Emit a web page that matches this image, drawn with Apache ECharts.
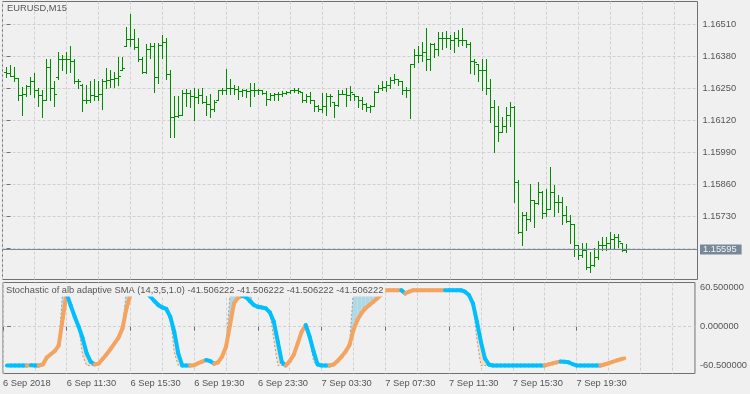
<!DOCTYPE html>
<html><head><meta charset="utf-8">
<script src="https://cdn.jsdelivr.net/npm/echarts@6/dist/echarts.min.js"></script>
<style>html,body{margin:0;padding:0;background:#f0f0f0;}#c{width:750px;height:394px;}</style>
</head><body><div id="c"></div><script>
const symbolName = 'EURUSD,M15';
const indicatorName = 'Stochastic of alb adaptive SMA (14,3,5,1.0) -41.506222 -41.506222 -41.506222 -41.506222';

const opens = [1.16316,1.16312,1.16296,1.16288,1.16219,1.16223,1.16259,1.16276,1.16243,1.16219,
1.16202,1.16336,1.16251,1.16292,1.16365,1.16369,1.16365,1.16357,1.16276,1.16263,
1.16202,1.16202,1.16219,1.16215,1.16223,1.16276,1.16280,1.16284,1.16288,1.16324,
1.16418,1.16450,1.16450,1.16414,1.16365,1.16316,1.16406,1.16418,1.16292,1.16422,
1.16438,1.16304,1.16133,1.16137,1.16141,1.16227,1.16227,1.16215,1.16211,1.16219,
1.16194,1.16186,1.16162,1.16202,1.16243,1.16243,1.16251,1.16251,1.16247,1.16235,
1.16243,1.16235,1.16243,1.16243,1.16239,1.16227,1.16206,1.16219,1.16223,1.16223,
1.16227,1.16231,1.16239,1.16243,1.16231,1.16202,1.16215,1.16202,1.16178,1.16162,
1.16178,1.16215,1.16194,1.16182,1.16223,1.16223,1.16219,1.16223,1.16215,1.16202,
1.16186,1.16170,1.16178,1.16231,1.16251,1.16255,1.16263,1.16280,1.16284,1.16276,
1.16243,1.16239,1.16345,1.16385,1.16385,1.16397,1.16365,1.16426,1.16406,1.16454,
1.16454,1.16454,1.16446,1.16454,1.16446,1.16446,1.16426,1.16357,1.16345,1.16324,
1.16324,1.16251,1.16170,1.16093,1.16072,1.16093,1.16141,1.16170,1.15869,1.15666,
1.15735,1.15715,1.15796,1.15780,1.15825,1.15743,1.15756,1.15825,1.15784,1.15788,
1.15735,1.15707,1.15695,1.15613,1.15569,1.15593,1.15520,1.15532,1.15561,1.15613,
1.15613,1.15621,1.15634,1.15642,1.15621,1.15593];
const highs = [1.16336,1.16341,1.16336,1.16288,1.16255,1.16263,1.16292,1.16312,1.16251,1.16243,
1.16365,1.16365,1.16276,1.16397,1.16385,1.16397,1.16418,1.16365,1.16284,1.16267,
1.16263,1.16276,1.16284,1.16276,1.16284,1.16332,1.16324,1.16316,1.16377,1.16377,
1.16495,1.16548,1.16487,1.16454,1.16377,1.16426,1.16434,1.16434,1.16434,1.16466,
1.16454,1.16324,1.16215,1.16215,1.16243,1.16247,1.16243,1.16251,1.16247,1.16251,
1.16215,1.16223,1.16202,1.16243,1.16251,1.16328,1.16284,1.16263,1.16259,1.16247,
1.16247,1.16271,1.16271,1.16247,1.16243,1.16235,1.16227,1.16227,1.16231,1.16235,
1.16235,1.16243,1.16251,1.16251,1.16231,1.16223,1.16231,1.16202,1.16182,1.16227,
1.16227,1.16223,1.16194,1.16243,1.16243,1.16251,1.16259,1.16223,1.16215,1.16211,
1.16190,1.16182,1.16235,1.16263,1.16276,1.16276,1.16292,1.16308,1.16284,1.16276,
1.16255,1.16345,1.16406,1.16418,1.16438,1.16491,1.16434,1.16434,1.16475,1.16475,
1.16479,1.16466,1.16475,1.16483,1.16491,1.16446,1.16438,1.16365,1.16345,1.16365,
1.16365,1.16284,1.16202,1.16174,1.16133,1.16170,1.16194,1.16178,1.15877,1.15747,
1.15747,1.15861,1.15796,1.15869,1.15829,1.15837,1.15930,1.15857,1.15816,1.15808,
1.15768,1.15735,1.15695,1.15613,1.15621,1.15621,1.15581,1.15601,1.15626,1.15642,
1.15642,1.15666,1.15658,1.15654,1.15621,1.15617];
const lows = [1.16292,1.16296,1.16276,1.16202,1.16141,1.16215,1.16223,1.16211,1.16174,1.16133,
1.16202,1.16202,1.16174,1.16284,1.16324,1.16312,1.16316,1.16271,1.16251,1.16154,
1.16190,1.16194,1.16202,1.16202,1.16162,1.16251,1.16255,1.16255,1.16263,1.16324,
1.16418,1.16418,1.16406,1.16357,1.16312,1.16312,1.16373,1.16231,1.16271,1.16373,
1.16284,1.16052,1.16052,1.16133,1.16141,1.16174,1.16170,1.16121,1.16190,1.16190,
1.16141,1.16133,1.16154,1.16202,1.16223,1.16223,1.16223,1.16223,1.16206,1.16215,
1.16211,1.16174,1.16215,1.16223,1.16223,1.16182,1.16202,1.16202,1.16202,1.16215,
1.16223,1.16227,1.16231,1.16227,1.16194,1.16194,1.16190,1.16154,1.16154,1.16150,
1.16141,1.16174,1.16133,1.16174,1.16223,1.16174,1.16202,1.16202,1.16170,1.16162,
1.16154,1.16150,1.16174,1.16231,1.16243,1.16235,1.16251,1.16271,1.16263,1.16223,
1.16211,1.16129,1.16336,1.16353,1.16357,1.16324,1.16324,1.16377,1.16385,1.16406,
1.16414,1.16406,1.16397,1.16418,1.16422,1.16414,1.16312,1.16304,1.16276,1.16243,
1.16223,1.16113,1.15991,1.16032,1.16072,1.16072,1.16093,1.15788,1.15662,1.15613,
1.15674,1.15707,1.15686,1.15776,1.15723,1.15731,1.15756,1.15731,1.15747,1.15695,
1.15703,1.15621,1.15565,1.15553,1.15561,1.15512,1.15500,1.15524,1.15553,1.15593,
1.15593,1.15601,1.15601,1.15605,1.15585,1.15581];
const closes = [1.16312,1.16296,1.16288,1.16219,1.16223,1.16259,1.16276,1.16243,1.16219,1.16202,
1.16336,1.16251,1.16223,1.16365,1.16369,1.16365,1.16357,1.16276,1.16276,1.16202,
1.16202,1.16219,1.16215,1.16223,1.16276,1.16280,1.16284,1.16288,1.16296,1.16332,
1.16450,1.16450,1.16414,1.16365,1.16316,1.16406,1.16418,1.16292,1.16422,1.16438,
1.16304,1.16133,1.16137,1.16141,1.16227,1.16227,1.16215,1.16211,1.16219,1.16194,
1.16186,1.16162,1.16194,1.16243,1.16243,1.16251,1.16251,1.16247,1.16235,1.16243,
1.16235,1.16243,1.16243,1.16239,1.16227,1.16206,1.16219,1.16223,1.16223,1.16227,
1.16231,1.16239,1.16243,1.16235,1.16202,1.16215,1.16202,1.16178,1.16162,1.16178,
1.16215,1.16215,1.16182,1.16223,1.16223,1.16219,1.16231,1.16215,1.16202,1.16186,
1.16170,1.16178,1.16231,1.16251,1.16255,1.16263,1.16280,1.16284,1.16276,1.16243,
1.16239,1.16345,1.16385,1.16385,1.16397,1.16365,1.16426,1.16406,1.16454,1.16454,
1.16454,1.16446,1.16454,1.16446,1.16446,1.16426,1.16357,1.16353,1.16324,1.16324,
1.16251,1.16170,1.16093,1.16072,1.16093,1.16141,1.16170,1.15869,1.15666,1.15735,
1.15715,1.15796,1.15780,1.15825,1.15743,1.15756,1.15825,1.15784,1.15788,1.15735,
1.15707,1.15695,1.15613,1.15569,1.15593,1.15520,1.15532,1.15561,1.15613,1.15613,
1.15621,1.15634,1.15642,1.15626,1.15593,1.15595];

// indicator: slow (thick, colour by slope) and fast (leading edge of the fill)
const slowLine = [-60.5,-60.5,-60.5,-60.5,-60.5,-60.5,-60.0,-60.5,-60.5,-59,
-48,-43,-38,-29,13,52,33,15.6,0,-18,
-41.6,-54.6,-58.8,-57.7,-50.4,-43.2,-34.8,-26,-17,-2.6,
28.6,50,57,57.5,57,53,47,40,33.8,30,
27.6,15.6,-7.8,-41.6,-60.5,-60.5,-60.5,-60,-57,-54.6,
-52,-53.6,-57.7,-55.6,-46.8,-31.2,2.6,36.4,45,48,
46,40,33.8,31,30,28.6,22.4,7.8,-23.4,-55,
-60.5,-53.6,-44,-26,-7.8,2.6,-15.6,-39,-59,-60.5,
-60.5,-60.5,-59,-53.6,-46.8,-39,-28.6,-5.2,10.4,20.8,
28.6,33.8,39,44.2,50,56.7,57,57,57,57,
52,54.6,57,57,57,57,57,57,57,57,
57,56.8,56.8,56.8,56.8,54.6,49.4,36.4,7.8,-23.4,
-49.4,-59,-60.5,-60.5,-60.5,-60.5,-60.5,-60.5,-60.5,-60.5,
-60.5,-60.5,-60.5,-60.5,-60.5,-60.5,-58.8,-57.2,-55.6,-54.2,
-54.6,-55.6,-58.2,-60.5,-60.5,-60.5,-60.5,-60.5,-60.5,-60.5,
-59,-57.2,-55,-53,-51,-49.4];
const fastLine = [-60.5,-60.5,-60.5,-60.5,-60.5,-60.5,-60.0,-60.5,-60.5,-59,
-48,-43,-38,-29,57,57,33,15.6,0,-45,
-60.5,-60.5,-60.5,-57.7,-50.4,-43.2,-34.8,-26,-17,-2.6,
57,57,57,57.5,57,53,47,40,33.8,30,
27.6,15.6,-40,-60.5,-60.5,-60.5,-60.5,-60,-57,-54.6,
-52,-53.6,-57.7,-55.6,-46.8,-31.2,50,57,57,57,
57,50,33.8,31,30,28.6,22.4,-20,-60.5,-60.5,
-60.5,-53.6,-44,-26,-7.8,2.6,-15.6,-55,-60.5,-60.5,
-60.5,-60.5,-59,-53.6,-46.8,-39,-28.6,57,57,57,
57,57,57,57,57,56.7,57,57,57,57,
52,54.6,57,57,57,57,57,57,57,57,
57,56.8,56.8,56.8,56.8,54.6,49.4,36.4,-20,-60.5,
-60.5,-59,-60.5,-60.5,-60.5,-60.5,-60.5,-60.5,-60.5,-60.5,
-60.5,-60.5,-60.5,-60.5,-60.5,-60.5,-58.8,-57.2,-55.6,-54.2,
-54.6,-55.6,-58.2,-60.5,-60.5,-60.5,-60.5,-60.5,-60.5,-60.5,
-59,-57.2,-55,-53,-51,-49.4];

const lastPrice = 1.15595;
const priceLabels = [1.15730,1.15860,1.15990,1.16120,1.16250,1.16380,1.16510];
const priceGrid = [1.15600,1.15730,1.15860,1.15990,1.16120,1.16250,1.16380,1.16510];
const oscLabels = [-60.5, 0, 60.5];
const xLabelBars = [-1,15,31,47,63,79,95,111,127,143];
const xLabelTexts = ['6 Sep 2018','6 Sep 11:30','6 Sep 15:30','6 Sep 19:30','6 Sep 23:30','7 Sep 03:30','7 Sep 07:30','7 Sep 11:30','7 Sep 15:30','7 Sep 19:30'];

// ---- presentation ----
const FONT = 'Liberation Sans';
const FS = 9.3;
const TXT = '#555555';
const BORDER = '#707070';
const GRIDC = '#d0d0d0';
const BAR = '#008c00';
const UP = '#f4a460', DOWN = '#00bfff';
const XMIN = -1, XMAX = 172.75;
const gridBars = [];
for (let b = -1; b <= 172; b += 8) gridBars.push(b);

const ohlc = opens.map((o, i) => [i, o, highs[i], lows[i], closes[i]]);
const fillData = [], segData = [];
let col = 0;
for (let i = 1; i < slowLine.length; i++) {
  fillData.push([i - 1, fastLine[i - 1], slowLine[i - 1], i, fastLine[i], slowLine[i]]);
  const d = slowLine[i] - slowLine[i - 1];
  if (d > 0) col = 1; else if (d < 0) col = 0;
  segData.push([i - 1, slowLine[i - 1], i, slowLine[i], col]);
}

function renderBar(params, api) {
  const k = api.value(0);
  const pO = api.coord([k, api.value(1)]);
  const pH = api.coord([k, api.value(2)]);
  const pL = api.coord([k, api.value(3)]);
  const pC = api.coord([k, api.value(4)]);
  const x = Math.floor(pO[0]) + 0.5;
  const yo = Math.floor(pO[1]) + 0.5, yc = Math.floor(pC[1]) + 0.5;
  const st = { stroke: BAR, lineWidth: 1 };
  return { type: 'group', children: [
    { type: 'line', shape: { x1: x, y1: Math.floor(pH[1]), x2: x, y2: Math.floor(pL[1]) + 1 }, style: st },
    { type: 'line', shape: { x1: x - 2.5, y1: yo, x2: x - 0.5, y2: yo }, style: st },
    { type: 'line', shape: { x1: x + 0.5, y1: yc, x2: x + 2.5, y2: yc }, style: st }
  ]};
}
function renderFill(params, api) {
  const f0 = api.value(1), s0 = api.value(2), f1 = api.value(4), s1 = api.value(5);
  if (f0 === s0 && f1 === s1) return null;
  const a = api.coord([api.value(0), f0]), b = api.coord([api.value(3), f1]);
  const c = api.coord([api.value(3), s1]), d = api.coord([api.value(0), s0]);
  return { type: 'polygon', shape: { points: [a, b, c, d] },
    style: { fill: (f0 + f1) > (s0 + s1) ? '#add8e6' : '#ffdab9' } };
}
function renderSeg(params, api) {
  const a = api.coord([api.value(0), api.value(1)]);
  const b = api.coord([api.value(2), api.value(3)]);
  return { type: 'line', shape: { x1: a[0], y1: a[1], x2: b[0], y2: b[1] },
    style: { stroke: api.value(4) ? UP : DOWN, lineWidth: 4, lineCap: 'round' } };
}

const lbl = { fontFamily: FONT, fontSize: FS, color: TXT };
const option = {
  backgroundColor: '#f0f0f0',
  animation: false,
  textStyle: { fontFamily: FONT },
  title: [
    { text: symbolName, left: 5, top: 2, padding: [2, 2, 2, 2],
      textStyle: { fontFamily: FONT, fontSize: FS, fontWeight: 'normal', color: TXT } },
    { text: indicatorName, left: 4, top: 283.5, padding: [2, 2, 2, 2], backgroundColor: '#f0f0f0',
      textStyle: { fontFamily: FONT, fontSize: FS, fontWeight: 'normal', color: TXT } }
  ],
  grid: [
    { left: 2.5, right: 52.5, top: 1.5, height: 278, show: true, borderColor: BORDER, borderWidth: 1, backgroundColor: 'transparent' },
    { left: 2.5, right: 52.5, top: 282.5, height: 91, show: true, borderColor: BORDER, borderWidth: 1, backgroundColor: 'transparent' }
  ],
  xAxis: [
    { type: 'value', gridIndex: 0, min: XMIN, max: XMAX, axisLine: { show: false },
      axisTick: { show: false, customValues: gridBars }, axisLabel: { show: false },
      splitLine: { show: true, lineStyle: { color: GRIDC, type: [3, 2], width: 1 } } },
    { type: 'value', gridIndex: 1, min: XMIN, max: XMAX, axisLine: { show: false },
      axisTick: { show: false, customValues: gridBars }, axisLabel: { show: false },
      splitLine: { show: true, lineStyle: { color: GRIDC, type: [3, 2], width: 1 } } },
    { type: 'value', gridIndex: 1, min: XMIN, max: XMAX, position: 'bottom', axisLine: { show: false },
      axisTick: { show: true, customValues: xLabelBars, length: 4, lineStyle: { color: BORDER } },
      axisLabel: Object.assign({ customValues: xLabelBars, align: 'left', margin: 5.5, showMinLabel: true,
        formatter: v => { const i = xLabelBars.indexOf(Math.round(v)); return i >= 0 ? xLabelTexts[i] : ''; } }, lbl),
      splitLine: { show: false } }
  ],
  yAxis: [
    { type: 'value', gridIndex: 0, position: 'right', min: 1.154732, max: 1.166026, axisLine: { show: false },
      axisTick: { show: true, customValues: priceGrid, length: 4, lineStyle: { color: BORDER } },
      axisLabel: Object.assign({ customValues: priceLabels, margin: 5, formatter: v => v.toFixed(5) }, lbl),
      splitLine: { show: true, lineStyle: { color: GRIDC, type: [3, 2], width: 1 } } },
    { type: 'value', gridIndex: 1, position: 'right', min: -73, max: 68.9, axisLine: { show: false },
      axisTick: { show: true, customValues: oscLabels, length: 4, lineStyle: { color: BORDER } },
      axisLabel: Object.assign({ customValues: oscLabels, margin: 5, formatter: v => v.toFixed(6) }, lbl),
      splitLine: { show: false } },
    { type: 'value', gridIndex: 1, position: 'right', min: -73, max: 68.9, axisLine: { show: false },
      axisTick: { show: false, customValues: [0] }, axisLabel: { show: false },
      splitLine: { show: true, lineStyle: { color: GRIDC, type: [3, 2], width: 1 } } }
  ],
  series: [
    { type: 'custom', name: 'EURUSD', xAxisIndex: 0, yAxisIndex: 0, data: ohlc, renderItem: renderBar, z: 3 },
    { type: 'line', name: 'close', xAxisIndex: 0, yAxisIndex: 0, data: closes.map((c, i) => [i, c]),
      symbol: 'none', silent: true, z: 4, lineStyle: { opacity: 0 },
      markLine: { silent: true, symbol: 'none', animation: false, precision: 5,
        lineStyle: { color: '#778899', width: 1, type: 'solid' },
        label: { position: 'end', distance: 2.5, formatter: () => lastPrice.toFixed(5), color: '#f4f4f4',
          backgroundColor: '#778899', padding: [1, 5, 0, 3], fontFamily: FONT, fontSize: FS, lineHeight: 9 },
        data: [{ yAxis: lastPrice }] } },
    { type: 'custom', name: 'fill', xAxisIndex: 1, yAxisIndex: 1, data: fillData, renderItem: renderFill, z: 1 },
    { type: 'line', name: 'fast', xAxisIndex: 1, yAxisIndex: 1, data: fastLine.map((v, i) => [i, v]),
      symbol: 'none', z: 2, lineStyle: { color: '#a0a0a0', width: 1, type: [2, 2] } },
    { type: 'custom', name: 'signal', xAxisIndex: 1, yAxisIndex: 1, data: segData, renderItem: renderSeg, z: 3 }
  ]
};
const chart = echarts.init(document.getElementById('c'), null, { renderer: 'canvas' });
chart.setOption(option);
</script></body></html>
